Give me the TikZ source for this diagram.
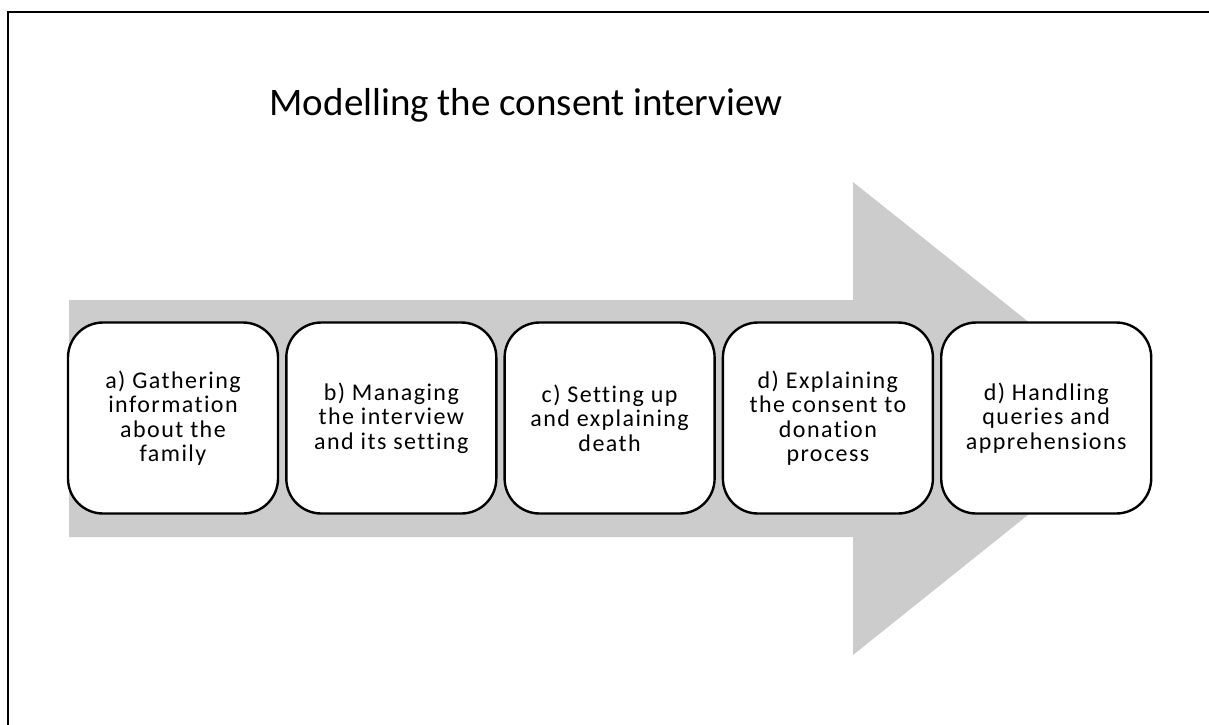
\documentclass[tikz,border=0pt]{standalone}
\usepackage{fontspec}
\setmainfont{Carlito}[Ligatures=NoCommon]
\usetikzlibrary{shapes,calc}
\tikzstyle{block}=[align=center, draw=black, line width=2.4pt, rectangle, rounded corners=35pt, fill=white]
\tikzstyle{stage}=[block, minimum width=210pt, minimum height=191pt, inner sep=0pt,
  font=\fontsize{24}{24.5}\selectfont\addfontfeature{LetterSpace=6}]
\tikzstyle{flow arrow}=[fill=black!20]
\tikzstyle{frame}=[line width=2pt]
\begin{document}
\begin{tikzpicture}[x=1pt,y=-1pt,align=center]
\useasboundingbox (0,0) rectangle (1209,724);
\draw[frame] (1215,12) -- (8,12) -- (8,730);

\draw (526,115) node[anchor=base, font=\fontsize{39}{47}\selectfont] (title) {Modelling the consent interview};

% big grey arrow behind the stages
\fill[flow arrow] (69,300) -- (853,300) -- (853,182) -- (1149,418) -- (853,655) -- (853,537) -- (69,537) -- cycle;

\draw (173,418) node[stage] (gather) {a) Gathering\\information\\about the\\family};
\draw (gather) ++(218.3,0) node[stage] (manage) {b) Managing\\the interview\\and its setting};
\draw (manage) ++(218.3,0) node[stage] (death) {c) Setting up\\and explaining\\death};
\draw (death) ++(218.3,0) node[stage] (donation) {d) Explaining\\the consent to\\donation\\process};
\draw (donation) ++(218.3,0) node[stage] (queries) {d) Handling\\queries and\\apprehensions};

\end{tikzpicture}
\end{document}
